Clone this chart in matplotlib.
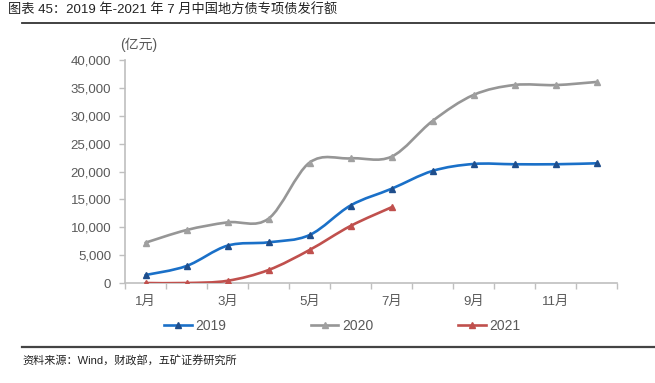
import matplotlib
matplotlib.use("Agg")
import matplotlib.pyplot as plt
from matplotlib.path import Path
from matplotlib.patches import PathPatch
from matplotlib.lines import Line2D
import numpy as np

FONTS = ["Liberation Sans", "Noto Sans CJK SC", "DejaVu Sans"]
plt.rcParams["font.family"] = FONTS

MONTHS = list(range(1, 13))
TICK_LABELS = ["1月", "3月", "5月", "7月", "9月", "11月"]

Y2019 = [1430, 3050, 6700, 7300, 8600, 13900, 16900, 20100, 21350, 21300, 21300, 21470]
Y2020 = [7230, 9500, 10880, 11540, 21590, 22360, 22660, 29060, 33730, 35520, 35500, 36060]
Y2021 = [0, 0, 400, 2330, 5920, 10230, 13580]

SERIES = [
    ("2019", Y2019, "#1a70c8", "#1f4e8c"),
    ("2020", Y2020, "#969696", "#a0a0a0"),
    ("2021", Y2021, "#c0504d", "#c0504d"),
]

TEXT = "#595959"
AXIS = "#bfbfbf"


def smooth_path(xs, ys):
    # Excel-like smoothed line: Catmull-Rom segments as cubic Bezier
    pts = np.column_stack([xs, ys]).astype(float)
    n = len(pts)
    verts = [pts[0]]
    codes = [Path.MOVETO]
    for i in range(n - 1):
        p0 = pts[max(i - 1, 0)]
        p1 = pts[i]
        p2 = pts[i + 1]
        p3 = pts[min(i + 2, n - 1)]
        c1 = p1 + (p2 - p0) / 6.0
        c2 = p2 - (p3 - p1) / 6.0
        verts += [c1, c2, p2]
        codes += [Path.CURVE4] * 3
    return Path(verts, codes)


fig = plt.figure(figsize=(6.55, 3.83), dpi=100)
ax = fig.add_axes([125 / 655, 1 - 283 / 383, 492 / 655, 223 / 383])

for name, ys, lc, mc in SERIES:
    xs = MONTHS[:len(ys)]
    ax.add_patch(PathPatch(smooth_path(xs, ys), fill=False, edgecolor=lc,
                           lw=1.9, capstyle="round", joinstyle="round", zorder=3))
    ax.plot(xs, ys, ls="none", marker="^", ms=5, color=mc, zorder=4)

ax.set_xlim(0.5, 12.5)
ax.set_ylim(0, 40000)
ax.set_yticks(range(0, 40001, 5000))
ax.set_yticklabels([f"{v:,}" for v in range(0, 40001, 5000)])
ax.set_xticks([1, 3, 5, 7, 9, 11])
ax.set_xticklabels(TICK_LABELS)
ax.set_xticks(np.arange(0.5, 12.6, 1), minor=True)
ax.tick_params(axis="x", which="major", length=0, pad=9, labelsize=9.5, labelcolor=TEXT)
ax.tick_params(axis="x", which="minor", length=4, color=AXIS, width=1)
ax.tick_params(axis="y", length=4, color=AXIS, width=1, pad=6, labelsize=9.5, labelcolor=TEXT)

for s in ["top", "right"]:
    ax.spines[s].set_visible(False)
for s in ["left", "bottom"]:
    ax.spines[s].set_color(AXIS)
    ax.spines[s].set_linewidth(1.2)

fig.text(120 / 655, 1 - 45 / 383, "(亿元)", fontsize=10, color=TEXT, va="center", ha="left")

# title and rules
fig.text(8 / 655, 1 - 10 / 383, "图表 45：2019 年-2021 年 7 月中国地方债专项债发行额",
         fontsize=9.5, color="#222222", va="center", ha="left")
fig.add_artist(Line2D([22 / 655, 1], [1 - 23 / 383] * 2, color="#333333", lw=1.3))
fig.add_artist(Line2D([22 / 655, 1], [1 - 347 / 383] * 2, color="#444444", lw=1.6))
fig.text(22 / 655, 1 - 361 / 383, "资料来源：Wind，财政部，五矿证券研究所",
         fontsize=8, color="#222222", va="center", ha="left")

handles = [Line2D([], [], color=lc, lw=1.9, marker="^", ms=5, markerfacecolor=mc,
                  markeredgecolor=mc) for _, _, lc, mc in SERIES]
fig.legend(handles, [s[0] for s in SERIES], loc="center", bbox_to_anchor=(342 / 655, 1 - 326 / 383),
           ncol=3, frameon=False, fontsize=10, labelcolor=TEXT, handlelength=2.0,
           handletextpad=0.25, columnspacing=6.1)

fig.savefig("out.png", dpi=100)
